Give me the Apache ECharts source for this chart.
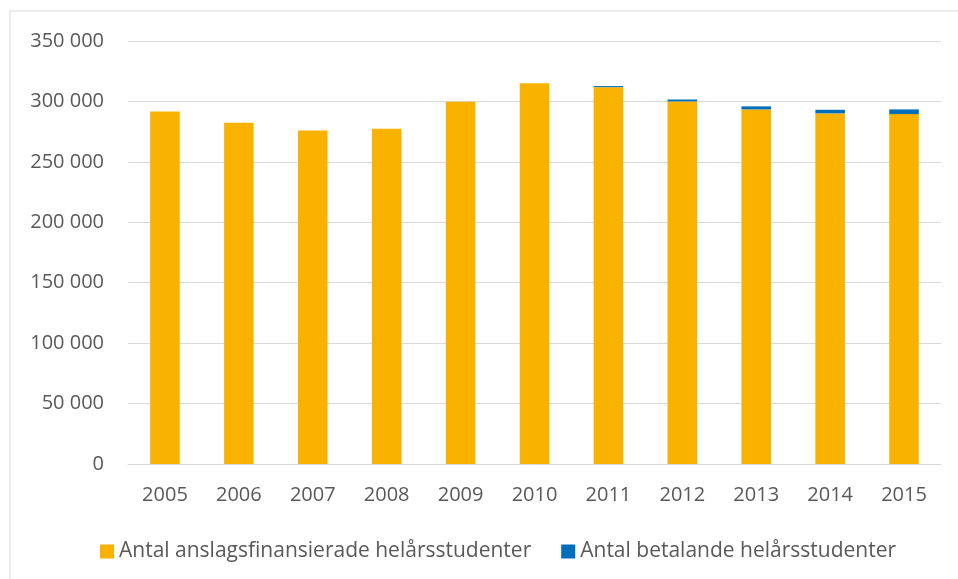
<!DOCTYPE html>
<html>
<head>
<meta charset="utf-8">
<script src="https://cdn.jsdelivr.net/npm/echarts@6/dist/echarts.min.js"></script>
<style>
  html, body { margin: 0; padding: 0; background: #fff; }
  #chart { width: 958px; height: 579px; }
</style>
</head>
<body>
<div id="chart"></div>
<script>
// år på x-axeln
const years = ['2005', '2006', '2007', '2008', '2009', '2010', '2011', '2012', '2013', '2014', '2015'];
// anslagsfinansierade helårsstudenter
const anslag = [291700, 282400, 276000, 277400, 299700, 315100, 311800, 300000, 293400, 290100, 289500];
// betalande helårsstudenter
const betalande = [0, 0, 0, 0, 0, 0, 900, 1600, 2500, 3000, 3900];
const seriesNames = ['Antal anslagsfinansierade helårsstudenter', 'Antal betalande helårsstudenter'];

const textColor = '#595959';
const fontFamily = '"Open Sans", sans-serif';

let myChart = echarts.init(document.getElementById('chart'));
myChart.setOption({
    animation: false,
    textStyle: { fontFamily: fontFamily },
    graphic: [
        // ram runt diagrammet (topp och vänster)
        { type: 'line', shape: { x1: 10, y1: 11, x2: 958, y2: 11 }, style: { stroke: '#d9d9d9', lineWidth: 1 } },
        { type: 'line', shape: { x1: 10, y1: 11, x2: 10, y2: 579 }, style: { stroke: '#d9d9d9', lineWidth: 1 } }
    ],
    grid: { left: 128, right: 17, top: 41, bottom: 115 },
    legend: {
        left: 95,
        top: 536,
        itemWidth: 14,
        itemHeight: 14,
        itemGap: 30,
        icon: 'rect',
        textStyle: { color: textColor, fontSize: 21, fontFamily: fontFamily },
        data: seriesNames
    },
    xAxis: {
        type: 'category',
        data: years,
        axisLine: { lineStyle: { color: '#d9d9d9', width: 1 } },
        axisTick: { show: false },
        axisLabel: { color: textColor, fontSize: 20, margin: 21 }
    },
    yAxis: {
        type: 'value',
        min: 0,
        max: 350000,
        interval: 50000,
        axisLine: { show: false },
        axisTick: { show: false },
        splitLine: { lineStyle: { color: '#d9d9d9', width: 1 } },
        axisLabel: {
            color: textColor,
            fontSize: 20,
            margin: 24,
            formatter: v => String(v).replace(/\B(?=(\d{3})+(?!\d))/g, ' ')
        }
    },
    series: [{
        name: seriesNames[0],
        type: 'bar',
        stack: 'total',
        barWidth: '40%',
        itemStyle: { color: '#f9b200' },
        data: anslag
    }, {
        name: seriesNames[1],
        type: 'bar',
        stack: 'total',
        barWidth: '40%',
        itemStyle: { color: '#006eb8' },
        data: betalande
    }]
});
</script>
</body>
</html>
